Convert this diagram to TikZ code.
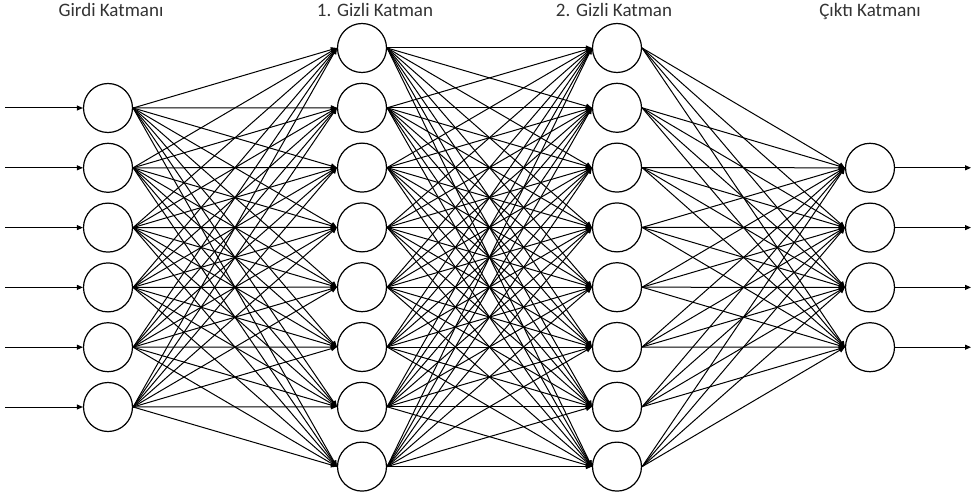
\documentclass[tikz,border=0pt]{standalone}
\usepackage{fontspec}
\setmainfont{Carlito}
\usetikzlibrary{arrows.meta}
\begin{document}
\begin{tikzpicture}[x=1pt,y=-1pt,
  neuron/.style={circle,draw,line width=1.2pt,minimum size=49pt,inner sep=0pt},
  conn/.style={line width=1pt,-{Triangle[length=6pt,width=5pt]}},
  lbl/.style={font=\fontsize{19}{21}\selectfont,text=black!80,inner sep=0pt,anchor=base}]
\useasboundingbox (0,0) rectangle (976,497);
% layers
\foreach \k in {1,...,6} \node[neuron] (i\k) at (108,{108+59.8*(\k-1)}) {};
\foreach \k in {1,...,8} \node[neuron] (a\k) at (362,{48+59.8*(\k-1)}) {};
\foreach \k in {1,...,8} \node[neuron] (b\k) at (617,{48+59.8*(\k-1)}) {};
\foreach \k in {1,...,4} \node[neuron] (o\k) at (870,{167.8+59.8*(\k-1)}) {};
% labels
\node[lbl] (l1) at (111,16.5) {Girdi Katmanı};
\node[lbl] (l2) at (375,16.5) {1. Gizli Katman};
\node[lbl] (l3) at (614,16.5) {2. Gizli Katman};
\node[lbl] (l4) at (870,16.5) {Çıktı Katmanı};
% connections
\foreach \s in {1,...,6} \foreach \t in {1,...,8} \draw[conn] (i\s.east) -- (a\t.west);
\foreach \s in {1,...,8} \foreach \t in {1,...,8} \draw[conn] (a\s.east) -- (b\t.west);
\foreach \s in {1,...,8} \foreach \t in {1,...,4} \draw[conn] (b\s.east) -- (o\t.west);
% inputs and outputs
\foreach \k in {1,...,6} {
  \coordinate (in\k) at (5,{108+59.8*(\k-1)});
  \draw[conn] (in\k) -- (i\k.west);
}
\foreach \k in {1,...,4} {
  \coordinate (out\k) at (971,{167.8+59.8*(\k-1)});
  \draw[conn] (o\k.east) -- (out\k);
}
\end{tikzpicture}
\end{document}
